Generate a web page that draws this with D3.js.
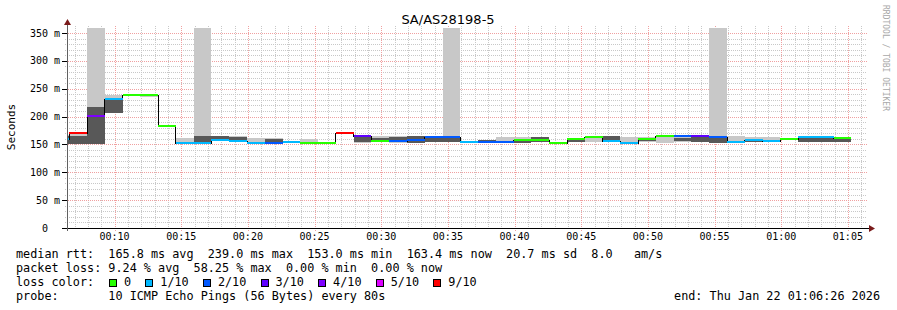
<!DOCTYPE html>
<html>
<head>
<meta charset="utf-8">
<script src="https://cdn.jsdelivr.net/npm/d3@7"></script>
<style>
  body { margin: 0; background: #fff; }
  text { font-family: "DejaVu Sans Mono", monospace; white-space: pre; }
</style>
</head>
<body>
<div id="chart"></div>
<script>
// SmokePing graph, one value per 80 s probe step (milliseconds)
const lossLabels = ["0", "1/10", "2/10", "3/10", "4/10", "5/10", "9/10"];
const lossColors = ["#26ff00", "#00b8ff", "#0059ff", "#5e00ff", "#7e00ff", "#dd00ff", "#ff0000"];

const median  = [160, 170, 201, 231, 239, 238, 183, 153, 153, 158, 156, 153, 153, 154, 153, 153, 170, 165, 156, 156, 158, 163, 163,
                 155, 154, 154, 158, 158, 153, 159, 164, 156, 153, 160, 165, 165, 165, 163, 155, 158, 156, 160, 163, 163, 162];
const lossIdx = [1, 6, 4, 1, 0, 0, 0, 1, 1, 1, 1, 1, 2, 1, 0, 0, 6, 3, 0, 2, 2, 2, 2,
                 1, 2, 2, 0, 0, 0, 0, 0, 1, 1, 0, 0, 2, 3, 2, 1, 1, 1, 0, 1, 1, 0];
// outer (light) smoke band
const smokeLo = [151, 151, 151, 207, 238, 236, null, 153, 153, 158, 156, 153, 153, 154, 153, null, null, 152, 156, 152, 153, 154, 154,
                 null, 154, 154, 153, 154, null, 154, 154, 154, 154, 155, 152, 155, 155, 152, 155, 155, 156, 158, 155, 155, 154];
const smokeHi = [167, 168, 400, 238, 240, 240, null, 161, 400, 166, 165, 162, 162, 156, 160, null, null, 165, 165, 165, 165, 163, 400,
                 null, 158, 163, 163, 163, null, 159, 163, 166, 164, 163, 163, 163, 163, 400, 165, 163, 163, 161, 163, 163, 162];
// inner (dark) smoke band
const coreLo  = [151, 151, 151, 207, null, null, null, null, 153, 158, 156, null, 153, 154, null, null, null, 154, 156, 154, 153, 154, 154,
                 null, 154, null, 153, 154, null, 154, null, 156, null, 156, null, 157, 155, 152, null, 155, null, null, 155, 155, 154];
const coreHi  = [165, 166, 218, 229, null, null, null, null, 165, 165, 164, null, 160, 156, null, null, null, 164, 162, 163, 165, 162, 163,
                 null, 158, null, 157, 163, null, 159, null, 165, null, 160, null, 161, 163, 162, null, 158, null, null, 161, 161, 160];

const yTicks = [0, 50, 100, 150, 200, 250, 300, 350];

const legendRows = [
  "median rtt:  165.8 ms avg  239.0 ms max  153.0 ms min  163.4 ms now  20.7 ms sd  8.0   am/s",
  "packet loss: 9.24 % avg  58.25 % max  0.00 % min  0.00 % now",
  "loss color:",
  "probe:       10 ICMP Echo Pings (56 Bytes) every 80s"
];
const endLabel = "end: Thu Jan 22 01:06:26 2026";

const W = 897, H = 310;
const plot = { left: 67, right: 867, top: 28, bottom: 228 };

const tEnd = Date.UTC(2026, 0, 22, 1, 6, 26);
const tStart = tEnd - 3600 * 1000;
const firstStep = Date.UTC(2026, 0, 22, 0, 5, 16);
const stepMs = 80 * 1000;
const stepTime = i => new Date(firstStep + i * stepMs);

const x = d3.scaleUtc().domain([new Date(tStart), new Date(tEnd)]).range([plot.left, plot.right]);
const y = d3.scaleLinear().domain([0, 359]).range([plot.bottom, plot.top]);

const svg = d3.select("#chart").append("svg")
  .attr("width", W).attr("height", H);

svg.append("defs").append("clipPath").attr("id", "plotclip")
  .append("rect")
  .attr("x", plot.left).attr("y", plot.top)
  .attr("width", plot.right - plot.left).attr("height", plot.bottom - plot.top);

// grid
const grid = svg.append("g").attr("shape-rendering", "crispEdges");
const minuteTicks = x.ticks(d3.utcMinute.every(1));
const fiveTicks = x.ticks(d3.utcMinute.every(5));
grid.selectAll(".vmin").data(minuteTicks.filter(t => t.getUTCMinutes() % 5 !== 0)).enter().append("line")
  .attr("x1", d => Math.round(x(d)) + 0.5).attr("x2", d => Math.round(x(d)) + 0.5)
  .attr("y1", plot.top - 2).attr("y2", plot.bottom)
  .attr("stroke", "#c8c8c8").attr("stroke-dasharray", "1,1");
grid.selectAll(".hmin").data(d3.range(10, 360, 10).filter(v => v % 50 !== 0)).enter().append("line")
  .attr("x1", plot.left - 2).attr("x2", plot.right)
  .attr("y1", d => Math.round(y(d)) + 0.5).attr("y2", d => Math.round(y(d)) + 0.5)
  .attr("stroke", "#c8c8c8").attr("stroke-dasharray", "1,1");
grid.selectAll(".vmaj").data(fiveTicks).enter().append("line")
  .attr("x1", d => Math.round(x(d)) + 0.5).attr("x2", d => Math.round(x(d)) + 0.5)
  .attr("y1", plot.top - 2).attr("y2", plot.bottom + 3)
  .attr("stroke", "#f0a0a0").attr("stroke-dasharray", "1,1");
grid.selectAll(".hmaj").data(yTicks.filter(v => v > 0)).enter().append("line")
  .attr("x1", plot.left - 5).attr("x2", plot.right)
  .attr("y1", d => Math.round(y(d)) + 0.5).attr("y2", d => Math.round(y(d)) + 0.5)
  .attr("stroke", "#f0a0a0").attr("stroke-dasharray", "1,1");

// smoke
const data = median.map((m, i) => ({
  t0: stepTime(i), t1: stepTime(i + 1), m, loss: lossIdx[i],
  lo: smokeLo[i], hi: smokeHi[i], clo: coreLo[i], chi: coreHi[i]
}));

const marks = svg.append("g").attr("clip-path", "url(#plotclip)").attr("shape-rendering", "crispEdges");

marks.selectAll(".smoke").data(data.filter(d => d.lo !== null)).enter().append("rect")
  .attr("x", d => x(d.t0)).attr("width", d => x(d.t1) - x(d.t0))
  .attr("y", d => y(d.hi)).attr("height", d => y(d.lo) - y(d.hi))
  .attr("fill", "#c8c8c8");

marks.selectAll(".core").data(data.filter(d => d.clo !== null)).enter().append("rect")
  .attr("x", d => x(d.t0)).attr("width", d => x(d.t1) - x(d.t0))
  .attr("y", d => y(d.chi)).attr("height", d => y(d.clo) - y(d.chi))
  .attr("fill", "#585858");

// median step line
const stepPts = data.map(d => [d.t0, d.m]).concat([[data[data.length - 1].t1, data[data.length - 1].m]]);
marks.append("path")
  .datum(stepPts)
  .attr("fill", "none").attr("stroke", "#000").attr("stroke-width", 1)
  .attr("d", d3.line().x(d => x(d[0])).y(d => Math.round(y(d[1])) + 0.5).curve(d3.curveStepAfter));

marks.selectAll(".med").data(data).enter().append("line")
  .attr("x1", d => x(d.t0)).attr("x2", d => x(d.t1))
  .attr("y1", d => Math.round(y(d.m))).attr("y2", d => Math.round(y(d.m)))
  .attr("stroke", d => lossColors[d.loss]).attr("stroke-width", 2);

// axes
const axes = svg.append("g").attr("shape-rendering", "crispEdges");
axes.append("line").attr("x1", plot.left - 5).attr("x2", plot.right + 3)
  .attr("y1", plot.bottom + 0.5).attr("y2", plot.bottom + 0.5).attr("stroke", "#000");
axes.append("line").attr("x1", plot.left + 0.5).attr("x2", plot.left + 0.5)
  .attr("y1", plot.bottom + 3).attr("y2", plot.top - 3).attr("stroke", "#606060");
axes.selectAll(".ytk").data(yTicks).enter().append("line")
  .attr("x1", plot.left - 5).attr("x2", plot.left)
  .attr("y1", d => Math.round(y(d)) + 0.5).attr("y2", d => Math.round(y(d)) + 0.5)
  .attr("stroke", "#000");
svg.append("path").attr("fill", "#7a1b1b")
  .attr("d", `M${plot.left - 3},${plot.top - 3}L${plot.left + 0.5},${plot.top - 9}L${plot.left + 4},${plot.top - 3}Z`);
svg.append("path").attr("fill", "#7a1b1b")
  .attr("d", `M${plot.right + 2},${plot.bottom - 3}L${plot.right + 8},${plot.bottom + 0.5}L${plot.right + 2},${plot.bottom + 4}Z`);

svg.selectAll(".ylab").data(yTicks).enter().append("text")
  .attr("x", 60).attr("y", d => y(d) + 3.5)
  .attr("text-anchor", "end").attr("font-size", 10).attr("fill", "#000")
  .text(d => d === 0 ? "0  " : d + " m");

svg.selectAll(".xlab").data(fiveTicks).enter().append("text")
  .attr("x", d => x(d)).attr("y", 240)
  .attr("text-anchor", "middle").attr("font-size", 10).attr("fill", "#000")
  .text(d3.utcFormat("%H:%M"));

// titles
svg.append("text").attr("x", 448).attr("y", 24).attr("text-anchor", "middle")
  .style("font-family", "'DejaVu Sans', sans-serif").attr("font-size", 13).text("SA/AS28198-5");
svg.append("text").attr("transform", "translate(15,127) rotate(-90)").attr("text-anchor", "middle")
  .attr("font-size", 11).text("Seconds");
svg.append("text").attr("transform", "translate(883,5) rotate(90)")
  .attr("font-size", 8).attr("fill", "#a8a8a8").text("RRDTOOL / TOBI OETIKER");

// legend
const charW = 7.1;
const rowY = [258, 272, 286, 300];
svg.selectAll(".leg").data(legendRows).enter().append("text")
  .attr("x", 16).attr("y", (d, i) => rowY[i])
  .attr("font-size", 11.8).text(d => d);
svg.append("text").attr("x", 880).attr("y", rowY[3]).attr("text-anchor", "end")
  .attr("font-size", 11.8).text(endLabel);

let lx = 16 + 13.1 * charW;
lossLabels.forEach((lab, i) => {
  svg.append("rect").attr("x", Math.round(lx) + 0.5).attr("y", 279.5).attr("width", 7).attr("height", 7)
    .attr("fill", lossColors[i]).attr("stroke", "#000").attr("stroke-width", 1);
  const tx = lx + 15;
  svg.append("text").attr("x", tx).attr("y", rowY[2]).attr("font-size", 11.8).text(lab);
  lx = tx + (lab.length + 2) * charW;
});
</script>
</body>
</html>
